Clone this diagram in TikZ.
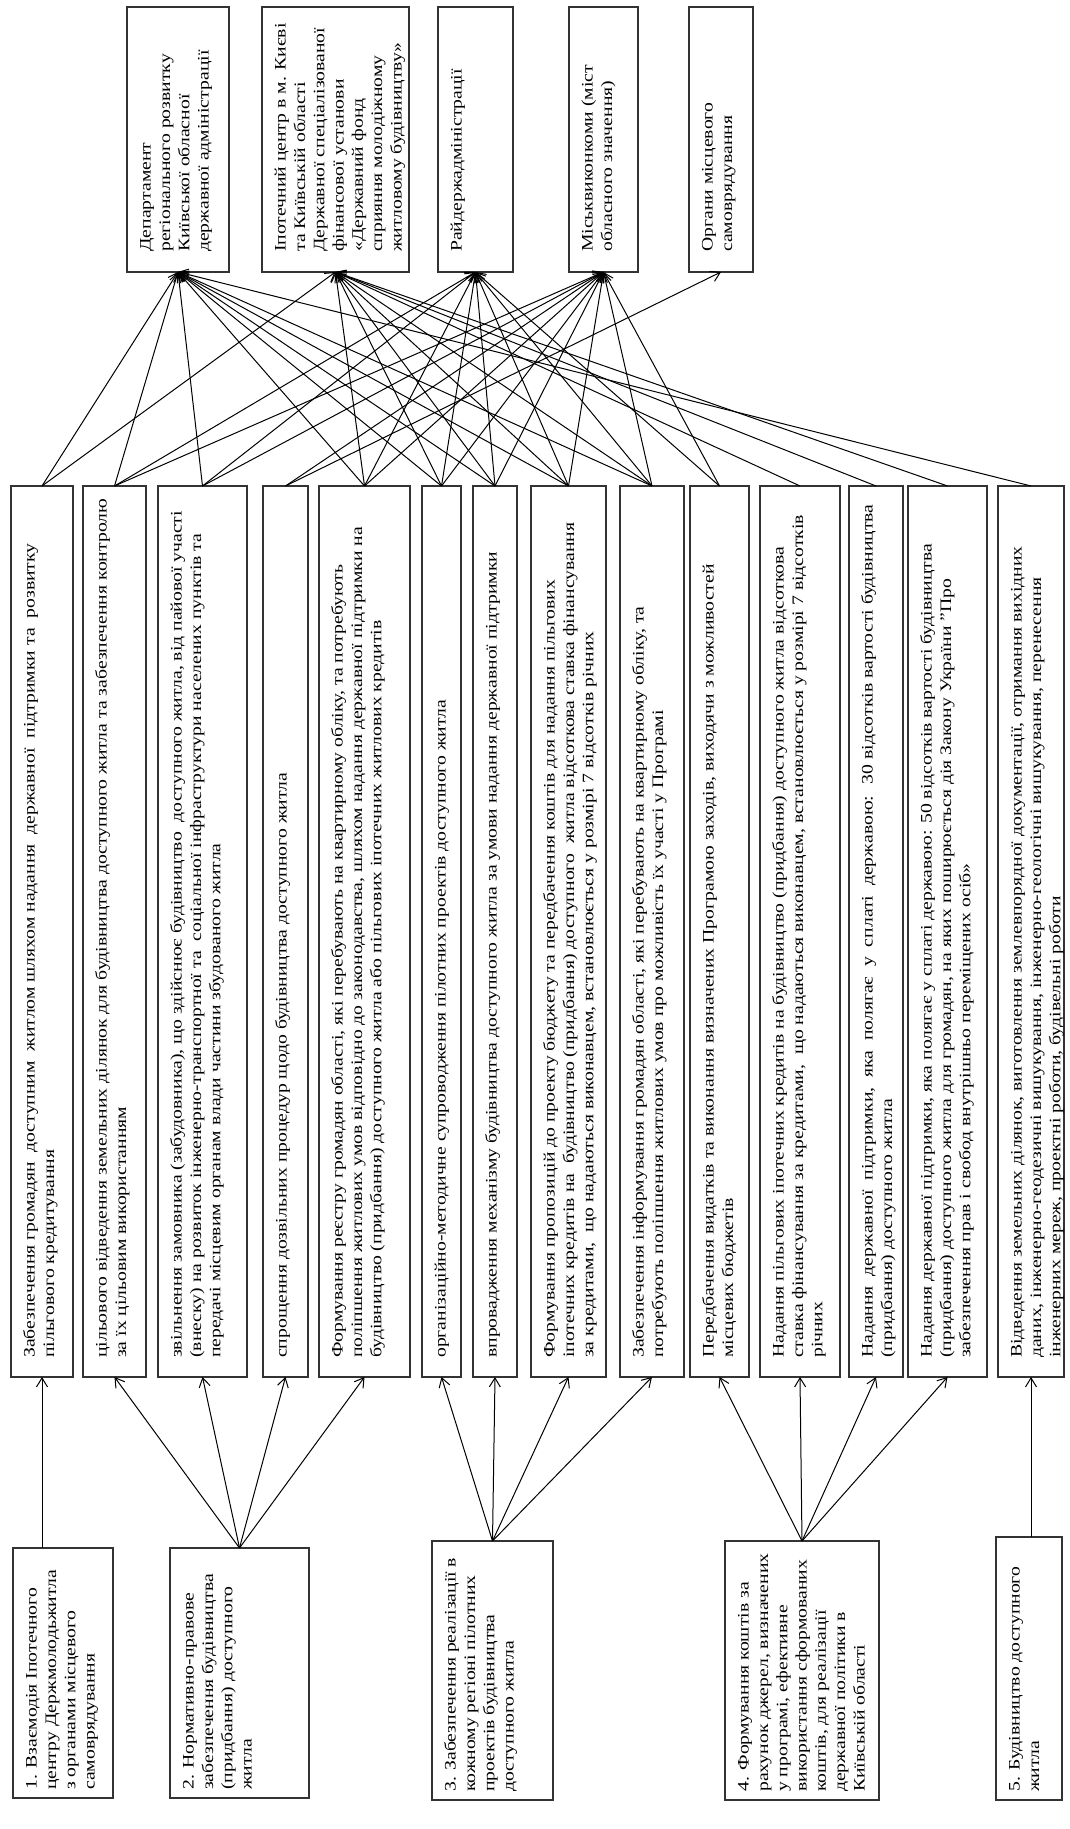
\documentclass[tikz,border=0pt]{standalone}
\usepackage{fontspec}
\setmainfont{Liberation Serif}
\usepackage{graphicx}
\usetikzlibrary{arrows.meta}

\newcommand{\rt}[1]{\scalebox{1.23}[1]{\fontsize{16}{19.3}\selectfont\begin{tabular}{@{}l@{}}#1\end{tabular}}}
% name, x1, x2, ytop, ybot (image coords), bottom padding, text
\newcommand{\bx}[7]{%
  \node[bxs, anchor=south west, minimum width=#3-#2, minimum height=#5-#4] (#1) at (#2, 1829-#5) {};
  \node[rotate=90, anchor=north west, inner sep=0pt] (#1t) at (#2+10, 1829-#5+#6) {\rt{#7}};
}

\begin{document}
\begin{tikzpicture}[x=1pt,y=1pt,
  bxs/.style={draw=black!80, line width=1.2pt, inner sep=0pt, outer sep=0pt, rectangle},
  arr/.style={-{Straight Barb[length=9pt,width=11pt]}, line width=1pt, draw=black}]
\fill[white] (0,0) rectangle (1070,1829);
\useasboundingbox (0,0) rectangle (1070,1829);

% top boxes
\bx{D}{127}{229}{7}{272}{20}{Департамент\\ регіонального розвитку\\ Київської обласної\\ державної адміністрації}
\bx{I}{262}{409}{7}{272}{20}{Іпотечний центр в м. Києві\\ та Київській області\\ Державної спеціалізованої\\ фінансової установи\\ «Державний фонд\\ сприяння молодіжному\\ житловому будівництву»}
\bx{R}{438}{513}{7}{272}{20}{Райдержадміністрації}
\bx{M}{569}{638}{7}{272}{20}{Міськвиконкоми (міст\\ обласного значення)}
\bx{O}{689}{753}{7}{272}{20}{Органи місцевого\\ самоврядування}

% middle boxes
\bx{m1}{11}{73}{486}{1377}{19}{Забезпечення громадян \ доступним \ житлом шляхом надання \ державної \ підтримки та \ розвитку\\ пільгового кредитування}
\bx{m2}{83}{146}{486}{1377}{19}{цільового відведення земельних ділянок для будівництва доступного житла та забезпечення контролю\\ за їх цільовим використанням}
\bx{m3}{158}{247}{486}{1377}{19}{звільнення замовника (забудовника), що здійснює будівництво \ доступного житла, від пайової участі\\ (внеску) на розвиток інженерно-транспортної та \ соціальної інфраструктури населених пунктів та\\ передачі місцевим органам влади частини збудованого житла}
\bx{m4}{263}{308}{486}{1377}{19}{спрощення дозвільних процедур щодо будівництва доступного житла}
\bx{m5}{319}{410}{486}{1377}{19}{Формування реєстру громадян області, які перебувають на квартирному обліку, та потребують\\ поліпшення житлових умов відповідно до законодавства, шляхом надання державної підтримки на\\ будівництво (придбання) доступного житла або пільгових іпотечних житлових кредитів}
\bx{m6}{422}{461}{486}{1377}{19}{організаційно-методичне супроводження пілотних проектів доступного житла}
\bx{m7}{473}{517}{486}{1377}{19}{впровадження механізму будівництва доступного житла за умови надання державної підтримки}
\bx{m8}{531}{606}{486}{1377}{19}{Формування пропозицій до проекту бюджету та передбачення коштів для надання пільгових\\ іпотечних кредитів на \ будівництво (придбання) доступного \ житла відсоткова ставка фінансування\\ за кредитами, \ що надаються виконавцем, встановлюється у розмірі 7 відсотків річних}
\bx{m9}{620}{684}{486}{1377}{19}{Забезпечення інформування громадян області, які перебувають на квартирному обліку, та\\ потребують поліпшення житлових умов про можливість їх участі у Програмі}
\bx{m10}{690}{749}{486}{1377}{19}{Передбачення видатків та виконання визначених Програмою заходів, виходячи з можливостей\\ місцевих бюджетів}
\bx{m11}{760}{840}{486}{1377}{19}{Надання пільгових іпотечних кредитів на будівництво (придбання) доступного житла відсоткова\\ ставка фінансування за кредитами, \ що надаються виконавцем, встановлюється у розмірі 7 відсотків\\ річних}
\bx{m12}{849}{903}{486}{1377}{19}{Надання \ державної \ підтримки, \ яка \ полягає \ у \ сплаті \ державою: \ 30 відсотків вартості будівництва\\ (придбання) доступного житла}
\bx{m13}{908}{987}{486}{1377}{19}{Надання державної підтримки, яка полягає у сплаті державою: 50 відсотків вартості будівництва\\ (придбання) доступного житла для громадян, на яких поширюється дія Закону України "Про\\ забезпечення прав і свобод внутрішньо переміщених осіб»}
\bx{m14}{998}{1064}{486}{1377}{19}{Відведення земельних ділянок, виготовлення землевпорядної документації, отримання вихідних\\ даних, інженерно-геодезичні вишукування, інженерно-геологічні вишукування, перенесення\\ інженерних мереж, проектні роботи, будівельні роботи}

% category boxes
\bx{c1}{13}{113}{1548}{1798}{8}{1. Взаємодія Іпотечного\\ центру Держмолодьжитла\\ з органами місцевого\\ самоврядування}
\bx{c2}{170}{309}{1548}{1798}{8}{2. Нормативно-правове\\ забезпечення будівництва\\ (придбання) доступного\\ житла}
\bx{c3}{432}{553}{1541}{1800}{8}{3. Забезпечення реалізації в\\ кожному регіоні пілотних\\ проектів будівництва\\ доступного житла}
\bx{c4}{725}{879}{1541}{1800}{8}{4. Формування коштів за\\ рахунок джерел, визначених\\ у програмі, ефективне\\ використання сформованих\\ коштів, для реалізації\\ державної політики в\\ Київській області}
\bx{c5}{996}{1062}{1537}{1800}{8}{5. Будівництво доступного\\ житла}

% category -> items
\draw[arr] (m1.south |- c1.north) -- (m1.south);
\foreach \t in {m2,m3,m4,m5} \draw[arr] (c2.north) -- (\t.south);
\foreach \t in {m6,m7,m8,m9} \draw[arr] (c3.north) -- (\t.south);
\foreach \t in {m10,m11,m12,m13} \draw[arr] (c4.north) -- (\t.south);
\draw[arr] (m14.south |- c5.north) -- (m14.south);

% items -> executors
\foreach \a/\b in {m1/D, m1/I,
  m2/D, m2/R, m2/M,
  m3/D, m3/R, m3/M,
  m4/M, m4/O,
  m5/D, m5/I, m5/R, m5/M,
  m6/D, m6/I, m6/R, m6/M,
  m7/D, m7/I, m7/R, m7/M,
  m8/D, m8/I, m8/R, m8/M,
  m9/D, m9/I, m9/R, m9/M,
  m10/R, m10/M,
  m11/I, m12/I, m13/I, m14/D}
  \draw[arr] (\a.north) -- (\b.south);
\end{tikzpicture}
\end{document}
